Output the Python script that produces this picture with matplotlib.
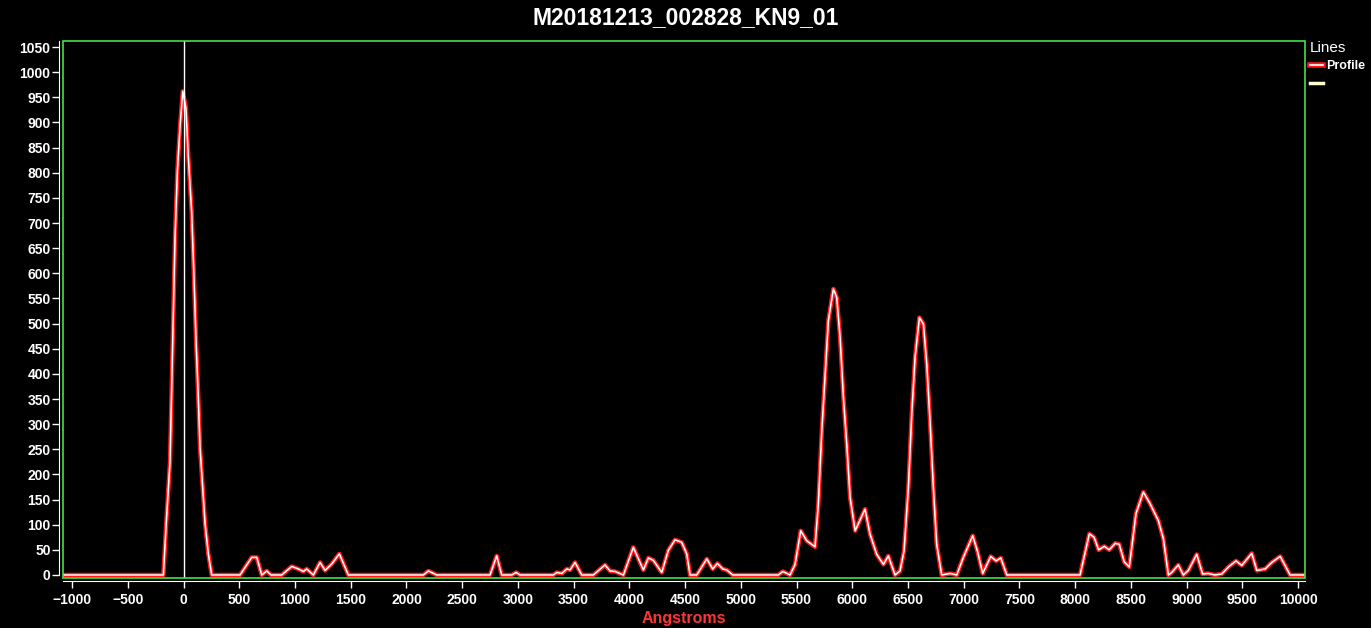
import matplotlib
matplotlib.use('Agg')
import matplotlib.pyplot as plt
import matplotlib.patheffects as pe
from matplotlib.lines import Line2D
from matplotlib.patches import Rectangle

plt.rcParams['font.family'] = ['Liberation Sans', 'DejaVu Sans']

title = 'M20181213_002828_KN9_01'
xlabel = 'Angstroms'

# profile (angstroms, intensity)
angstroms = [-1075, -181, -157, -121, -106, -91, -76, -55, -31, -7, 22, 43, 73, 94, 112, 133, 148, 172, 193, 223, 253,
             507, 612, 657, 702, 747, 785, 881, 971, 1030, 1075, 1105, 1165, 1225, 1270, 1330, 1398, 1479,
             2152, 2197, 2272, 2750, 2810, 2855, 2945, 2984, 3020, 3318, 3349, 3394, 3439, 3468, 3513, 3573,
             3677, 3782, 3827, 3872, 3947, 4036, 4126, 4171, 4216, 4291, 4350, 4410, 4470, 4515, 4545, 4605,
             4695, 4748, 4790, 4838, 4874, 4928,
             5337, 5377, 5442, 5487, 5538, 5592, 5666, 5696, 5727, 5756, 5786, 5831, 5861, 5891, 5921, 5951,
             5981, 6026, 6115, 6160, 6220, 6280, 6324, 6384, 6429, 6465, 6504, 6534, 6564, 6603, 6639, 6669,
             6698, 6728, 6758, 6803, 6878, 6938,
             6997, 7081, 7123, 7171, 7243, 7291, 7333, 7387, 8044, 8128, 8170, 8211, 8262, 8306, 8360, 8396,
             8441, 8486, 8546, 8612, 8672, 8747, 8792, 8837, 8867, 8926, 8971, 9016, 9091, 9144, 9194, 9254,
             9316, 9376, 9444, 9495, 9585, 9630, 9705, 9765, 9840, 9929, 10050]
profile = [0, 0, 96, 227, 378, 536, 673, 804, 893, 962, 928, 831, 722, 591, 467, 350, 254, 172, 103, 41, 0,
           0, 35, 35, 0, 8, 0, 0, 17, 12, 7, 12, 0, 25, 9, 22, 42, 0,
           0, 8, 0, 0, 38, 0, 0, 5, 0, 0, 5, 3, 12, 10, 25, 0,
           0, 20, 8, 7, 0, 55, 10, 34, 29, 5, 49, 70, 65, 42, 0, 0,
           32, 12, 23, 12, 10, 0,
           0, 7, 0, 21, 88, 68, 56, 141, 287, 393, 506, 569, 552, 473, 353, 260,
           154, 88, 131, 81, 41, 21, 38, 0, 8, 48, 174, 320, 433, 512, 499, 419,
           307, 174, 61, 0, 3, 0,
           35, 78, 48, 3, 37, 28, 34, 0, 0, 82, 75, 50, 57, 50, 63, 61,
           26, 16, 122, 165, 142, 108, 72, 0, 5, 20, 0, 9, 41, 2, 3, 0,
           2, 16, 28, 19, 43, 9, 12, 25, 37, 0, 0]

xticks = list(range(-1000, 10001, 500))
yticks = list(range(0, 1051, 50))

fig = plt.figure(figsize=(13.71, 6.28), dpi=100, facecolor='black')
ax = fig.add_axes([0.046, 0.0796, 0.9059, 0.8551], facecolor='black')

glow = [pe.Stroke(linewidth=3.2, foreground='#ff1818'), pe.Normal()]
ax.plot(angstroms, profile, color='white', lw=1.1, path_effects=glow, zorder=3)
ax.axvline(0, color='white', lw=1, zorder=4)

ax.set_xlim(-1081, 10063)
ax.set_ylim(-6, 1062)
ax.set_xticks(xticks)
ax.set_yticks(yticks)

for s in ['top', 'right']:
    ax.spines[s].set_visible(False)
ax.spines['left'].set_color('white')
ax.spines['left'].set_position(('outward', 3))
ax.spines['left'].set_bounds(0, 1062)
ax.spines['bottom'].set_color('white')
ax.spines['bottom'].set_position(('outward', 2.5))
ax.add_patch(Rectangle((0, 0), 1, 1, transform=ax.transAxes, fill=False,
                       edgecolor='#45e045', lw=1.2, clip_on=False, zorder=5))

ax.tick_params(axis='both', colors='white', labelsize=10, width=1)
ax.tick_params(axis='x', length=5, pad=3)
ax.tick_params(axis='y', length=5, pad=1)
for lbl in ax.get_xticklabels() + ax.get_yticklabels():
    lbl.set_fontweight('bold')

ax.set_xlabel(xlabel, color='#ff3535', fontsize=11.5, fontweight='bold', labelpad=3)
fig.suptitle(title, color='white', fontsize=16.5, fontweight='bold', y=0.99)

handles = [Line2D([], [], color='white', lw=1.2, path_effects=[pe.Stroke(linewidth=4, foreground='#ff1515'), pe.Normal()]),
           Line2D([], [], color='#ffffd0', lw=2.5)]
leg = fig.legend(handles, ['Profile', ' '], loc='upper left', bbox_to_anchor=(0.951, 0.945),
                 frameon=False, title='Lines', borderpad=0, handlelength=1.0, handletextpad=0.3,
                 labelspacing=0.45, prop={'weight': 'bold', 'size': 9})
leg.get_title().set_color('white')
leg.get_title().set_fontsize(11)
leg._legend_box.align = 'left'
for t in leg.get_texts():
    t.set_color('white')

fig.savefig('out.png', dpi=100, facecolor='black')
